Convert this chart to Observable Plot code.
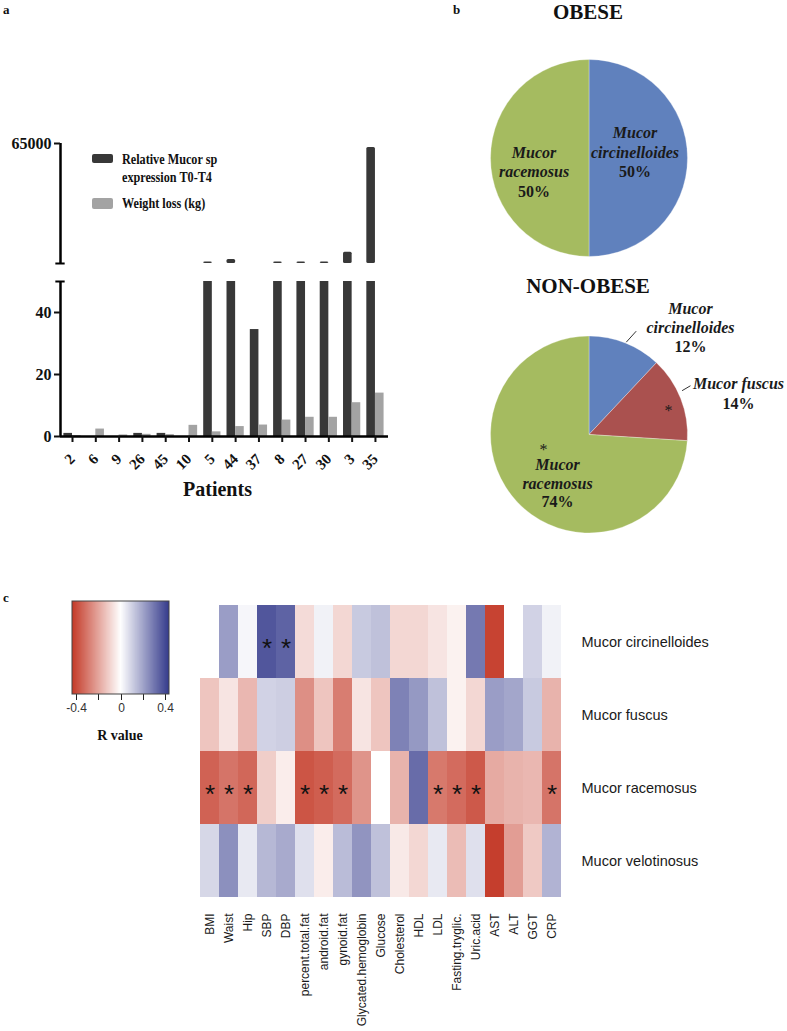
<!DOCTYPE html>
<html><head><meta charset="utf-8">
<script src="https://cdn.jsdelivr.net/npm/d3@7"></script>
<script src="https://cdn.jsdelivr.net/npm/@observablehq/plot@0.6"></script>
<style>
body{margin:0;background:#fff;}
#fig{position:relative;width:787px;height:1031px;overflow:hidden;background:#fff;}
#fig svg{overflow:visible;}
.t{position:absolute;white-space:nowrap;color:#111;}
</style></head><body><div id="fig"></div>
<script>
// ---------- Panel a data ----------
const patients = ["2","6","9","26","45","10","5","44","37","8","27","30","3","35"];
const expression = [1.0,0,0,1.0,1.0,0,800,2200,34.5,800,800,800,6100,62800];
const weightLoss = [0.3,2.4,0.5,0.7,0.6,3.6,1.5,3.2,3.7,5.3,6.2,6.2,10.9,14.0];
const seriesNames = ["Relative Mucor sp\nexpression T0-T4","Weight loss (kg)"];

// ---------- Panel b data ----------
const obeseSpecies = ["Mucor circinelloides","Mucor racemosus"];
const obeseShare = [50,50];
const nonObeseSpecies = ["Mucor circinelloides","Mucor fuscus","Mucor racemosus"];
const nonObeseShare = [12,14,74];
const nonObeseStar = [false,true,true];

// ---------- Panel c data ----------
const variables = ["BMI","Waist","Hip","SBP","DBP","percent.total.fat","android.fat","gynoid.fat","Glycated.hemoglobin","Glucose","Cholesterol","HDL","LDL","Fasting.tryglic.","Uric.acid","AST","ALT","GGT","CRP"];
const species = ["Mucor circinelloides","Mucor fuscus","Mucor racemosus","Mucor velotinosus"];
const rCircinelloides = [0.00,0.22,0.02,0.38,0.35,-0.08,0.03,-0.09,0.12,0.14,-0.09,-0.09,-0.06,-0.03,0.30,-0.42,0.00,0.10,0.03];
const rFuscus        = [-0.13,-0.06,-0.16,0.10,0.11,-0.25,-0.13,-0.29,-0.06,-0.13,0.28,0.23,0.14,-0.03,-0.09,0.22,0.20,0.12,-0.17];
const rRacemosus     = [-0.35,-0.31,-0.34,-0.11,-0.04,-0.38,-0.36,-0.33,-0.24,0.00,-0.17,0.33,-0.30,-0.33,-0.37,-0.19,-0.17,-0.16,-0.31];
const rVelotinosus   = [0.09,0.25,0.05,0.16,0.19,0.07,-0.04,0.15,0.24,0.14,-0.05,-0.09,0.05,-0.15,0.07,-0.43,-0.22,-0.12,0.17];
const sigCircinelloides = ["SBP","DBP"];
const sigFuscus = [];
const sigRacemosus = ["BMI","Waist","Hip","percent.total.fat","android.fat","gynoid.fat","LDL","Fasting.tryglic.","Uric.acid","CRP"];
const sigVelotinosus = [];
const legendTicks = [-0.4,-0.2,0,0.2,0.4];

// ---------- helpers ----------
const SERIF = '"Liberation Serif","Times New Roman",serif';
const SANS = '"Liberation Sans",Arial,Helvetica,sans-serif';
const fig = document.getElementById("fig");
function place(el, left, top){ el.style.position="absolute"; el.style.left=left+"px"; el.style.top=top+"px"; fig.appendChild(el); return el; }
function txt(s, left, top, css){ const d=document.createElement("div"); d.className="t"; d.textContent=s; Object.assign(d.style, css||{}); return place(d,left,top); }

// ---------- Panel a ----------
const barRows = patients.map((p,i)=>({i, patient:p, expr:expression[i], loss:weightLoss[i]}));
const xDom = [-0.515, 13.56];
const W = 0.37;
const darkFill = "#383838", grayFill = "#a3a3a3";
const styleA = {fontFamily: SERIF, fontWeight: "bold", color: "#111", background: "transparent", overflow: "visible"};

const upper = Plot.plot({
  width: 400, height: 140, marginLeft: 60, marginRight: 12, marginTop: 13, marginBottom: 7,
  x: {domain: xDom, axis: null},
  y: {domain: [50, 65000], clamp: true},
  style: styleA,
  marks: [
    Plot.rect(barRows, {filter: d => d.expr > 50, x1: d => d.i - W, x2: d => d.i, y1: 0, y2: "expr", fill: darkFill, rx: 1.5}),
    Plot.ruleX([xDom[0]], {y1: 50, y2: 65000, stroke: "#000", strokeWidth: 2.5}),
    Plot.ruleY([50], {x1: xDom[0]-0.2, x2: xDom[0]+0.2, stroke: "#000", strokeWidth: 2}),
    Plot.axisY([65000], {tickSize: 6, tickPadding: 3, tickFormat: d => String(d), fontSize: 16, strokeWidth: 2, label: null})
  ]
});
place(upper, 0, 130);

const lower = Plot.plot({
  width: 400, height: 240, marginLeft: 60, marginRight: 12, marginTop: 11, marginBottom: 74,
  x: {domain: xDom},
  y: {domain: [0, 50], clamp: true},
  style: styleA,
  marks: [
    Plot.rect(barRows, {x1: d => d.i - W, x2: d => d.i, y1: 0, y2: "expr", fill: darkFill}),
    Plot.rect(barRows, {x1: d => d.i, x2: d => d.i + W, y1: 0, y2: "loss", fill: grayFill}),
    Plot.ruleY([0], {x1: xDom[0], x2: xDom[1], stroke: "#000", strokeWidth: 2.5}),
    Plot.ruleX([xDom[0]], {y1: 0, y2: 50, stroke: "#000", strokeWidth: 2.5}),
    Plot.ruleY([50], {x1: xDom[0]-0.2, x2: xDom[0]+0.2, stroke: "#000", strokeWidth: 2}),
    Plot.axisY([0,20,40], {tickSize: 6, tickPadding: 3, fontSize: 16, strokeWidth: 2, label: null}),
    Plot.axisX(d3.range(patients.length), {tickFormat: i => patients[i], tickRotate: -45, tickSize: 6, tickPadding: 14, fontSize: 15, strokeWidth: 2, label: null}),
    Plot.text(["Patients"], {text: d => d, frameAnchor: "bottom", dx: -7, dy: 59, fontSize: 20, fontWeight: "bold"})
  ]
});
place(lower, 0, 270);

// panel a legend
const sw1 = document.createElement("div"); Object.assign(sw1.style,{width:"21px",height:"9px",background:darkFill,borderRadius:"2px"}); place(sw1, 92, 154);
const sw2 = document.createElement("div"); Object.assign(sw2.style,{width:"21px",height:"11px",background:grayFill,borderRadius:"2px"}); place(sw2, 92, 198);
const legCss = {fontFamily: SERIF, fontWeight:"bold", fontSize:"14px", lineHeight:"18px", transform:"scaleX(0.87)", transformOrigin:"left top", whiteSpace:"pre"};
txt(seriesNames[0], 122, 151, legCss);
txt(seriesNames[1], 122, 195, legCss);

// panel letters
const letterCss = {fontFamily: SERIF, fontWeight:"bold", fontSize:"13px", lineHeight:"15px"};
txt("a", 3, 2, letterCss);
txt("b", 453, 2, letterCss);
txt("c", 3, 590, letterCss);

// ---------- Panel b ----------
const pieColors = {"Mucor circinelloides":"#6081BD","Mucor fuscus":"#AA514F","Mucor racemosus":"#A5BB60"};
function pieMark(names, shares){
  const arcs = d3.pie().sort(null).value(d => d)(shares);
  return (index, scales, values, dims) => {
    let cx, cy, r;
    if (scales && typeof scales.x === "function" && typeof scales.y === "function") {
      cx = scales.x(0); cy = scales.y(0); r = scales.x(1) - scales.x(0);
    } else {
      const iw = dims.width - dims.marginLeft - dims.marginRight, ih = dims.height - dims.marginTop - dims.marginBottom;
      cx = dims.marginLeft + iw/2; cy = dims.marginTop + ih/2; r = iw/2;
    }
    const g = d3.create("svg:g").attr("transform", `translate(${cx},${cy})`);
    const arc = d3.arc().innerRadius(0).outerRadius(r);
    g.selectAll("path").data(arcs).join("path")
      .attr("d", arc).attr("fill", (d,i) => pieColors[names[i]])
      .attr("stroke", "#ffffff").attr("stroke-width", 0.5).attr("stroke-opacity", 0.6);
    return g.node();
  };
}
function shortName(s){ return s.replace("Mucor ", ""); }
const pieText = {fontFamily: SERIF, fontWeight: "bold", fontSize: 16, fill: "#1a1a1a", lineHeight: 1.2};

// OBESE
const obeseLab = [
  {name: obeseSpecies[0], share: obeseShare[0], nx: 0.462, ny: 0.168, px: 0.462, py: -0.122},
  {name: obeseSpecies[1], share: obeseShare[1], nx: -0.563, ny: -0.03, px: -0.563, py: -0.325}
];
const obese = Plot.plot({
  width: 330, height: 240, marginLeft: 30.5, marginRight: 102.5, marginTop: 19.5, marginBottom: 23.5,
  x: {domain: [-1,1], axis: null}, y: {domain: [-1,1], axis: null},
  style: {background: "transparent", overflow: "visible"},
  marks: [
    pieMark(obeseSpecies, obeseShare),
    Plot.text(obeseLab, {x: "nx", y: "ny", text: d => "Mucor\n" + shortName(d.name), ...pieText, fontStyle: "italic"}),
    Plot.text(obeseLab, {x: "px", y: "py", text: d => d.share + "%", ...pieText})
  ]
});
place(obese, 460, 40);
const titleCss = {fontFamily: SERIF, fontWeight:"bold", fontSize:"21px", lineHeight:"25px", transform:"translateX(-50%)"};
txt("OBESE", 588, 0, titleCss);

// NON-OBESE
const nonLab = [
  {name: nonObeseSpecies[0], share: nonObeseShare[0], star: nonObeseStar[0], nx: 1.025, ny: 1.193, px: 1.025, py: 0.909, text: "Mucor\ncircinelloides", sx: 0, sy: 0, lx1: 0.373, ly1: 0.942, lx2: 0.474, ly2: 1.054},
  {name: nonObeseSpecies[1], share: nonObeseShare[1], star: nonObeseStar[1], nx: 1.513, ny: 0.533, px: 1.513, py: 0.33, text: "Mucor fuscus", sx: 0.802, sy: 0.279, lx1: 0.94, ly1: 0.45, lx2: 1.025, ly2: 0.50},
  {name: nonObeseSpecies[2], share: nonObeseShare[2], star: nonObeseStar[2], nx: -0.325, ny: -0.39, px: -0.325, py: -0.67, text: "Mucor\nracemosus", sx: -0.467, sy: -0.12}
];
const nonObese = Plot.plot({
  width: 330, height: 250, marginLeft: 30.5, marginRight: 102.5, marginTop: 36, marginBottom: 17,
  x: {domain: [-1,1], axis: null}, y: {domain: [-1,1], axis: null},
  style: {background: "transparent", overflow: "visible"},
  marks: [
    pieMark(nonObeseSpecies, nonObeseShare),
    Plot.link(nonLab.filter(d => d.lx1 !== undefined), {x1: "lx1", y1: "ly1", x2: "lx2", y2: "ly2", stroke: "#333", strokeWidth: 1}),
    Plot.text(nonLab, {x: "nx", y: "ny", text: "text", ...pieText, fontStyle: "italic"}),
    Plot.text(nonLab, {x: "px", y: "py", text: d => d.share + "%", ...pieText}),
    Plot.text(nonLab.filter(d => d.star), {x: "sx", y: "sy", text: () => "*", fontFamily: SERIF, fontSize: 16, dy: 3, fill: "#1a1a1a"})
  ]
});
place(nonObese, 460, 300);
txt("NON-OBESE", 588, 274, titleCss);

// ---------- Panel c ----------
const RED = "#C43A28", BLUE = "#353B8C";
const colorScale = {type: "linear", domain: [-0.44, 0, 0.44], range: [RED, "#ffffff", BLUE], interpolate: "rgb"};
const rBySpecies = [rCircinelloides, rFuscus, rRacemosus, rVelotinosus];
const sigBySpecies = [sigCircinelloides, sigFuscus, sigRacemosus, sigVelotinosus];
const cells = species.flatMap((s, j) => variables.map((v, k) => ({species: s, variable: v, r: rBySpecies[j][k], sig: sigBySpecies[j].includes(v)})));

const heat = Plot.plot({
  width: 787, height: 441, marginLeft: 195, marginRight: 222, marginTop: 14, marginBottom: 133,
  x: {domain: variables, padding: 0},
  y: {domain: species, padding: 0},
  color: colorScale,
  style: {fontFamily: SANS, color: "#1a1a1a", background: "transparent", overflow: "visible"},
  marks: [
    Plot.cell(cells, {x: "variable", y: "species", fill: "r", inset: 0}),
    Plot.text(cells.filter(d => d.sig), {x: "variable", y: "species", text: () => "*", fontSize: 26, dy: 7, fill: "#111"}),
    Plot.axisX({tickRotate: -90, tickSize: 0, tickPadding: 15, fontSize: 12, label: null}),
    Plot.axisY({anchor: "right", tickSize: 0, tickPadding: 16, fontSize: 14.5, label: null})
  ]
});
place(heat, 0, 590);

const leg = Plot.legend({
  color: colorScale,
  width: 117, height: 119, marginLeft: 10, marginRight: 10, marginTop: 2, marginBottom: 24,
  tickSize: 6, ticks: legendTicks,
  tickFormat: d => (d === 0 || Math.abs(d) > 0.3) ? String(d) : "",
  label: null,
  style: {fontSize: "12px", fontFamily: SANS, color: "#333", background: "transparent", overflow: "visible"}
});
d3.select(leg).selectAll(".tick line").attr("y1", 0).attr("stroke", "#222");
d3.select(leg).append("rect").attr("x", 10).attr("y", 2).attr("width", 97).attr("height", 93)
  .attr("fill", "none").attr("stroke", "#444").attr("stroke-width", 1);
place(leg, 62, 599);
txt("R value", 120, 729, {fontFamily: SERIF, fontWeight:"bold", fontSize:"14px", lineHeight:"14px", transform:"translateX(-50%)"});
</script></body></html>
